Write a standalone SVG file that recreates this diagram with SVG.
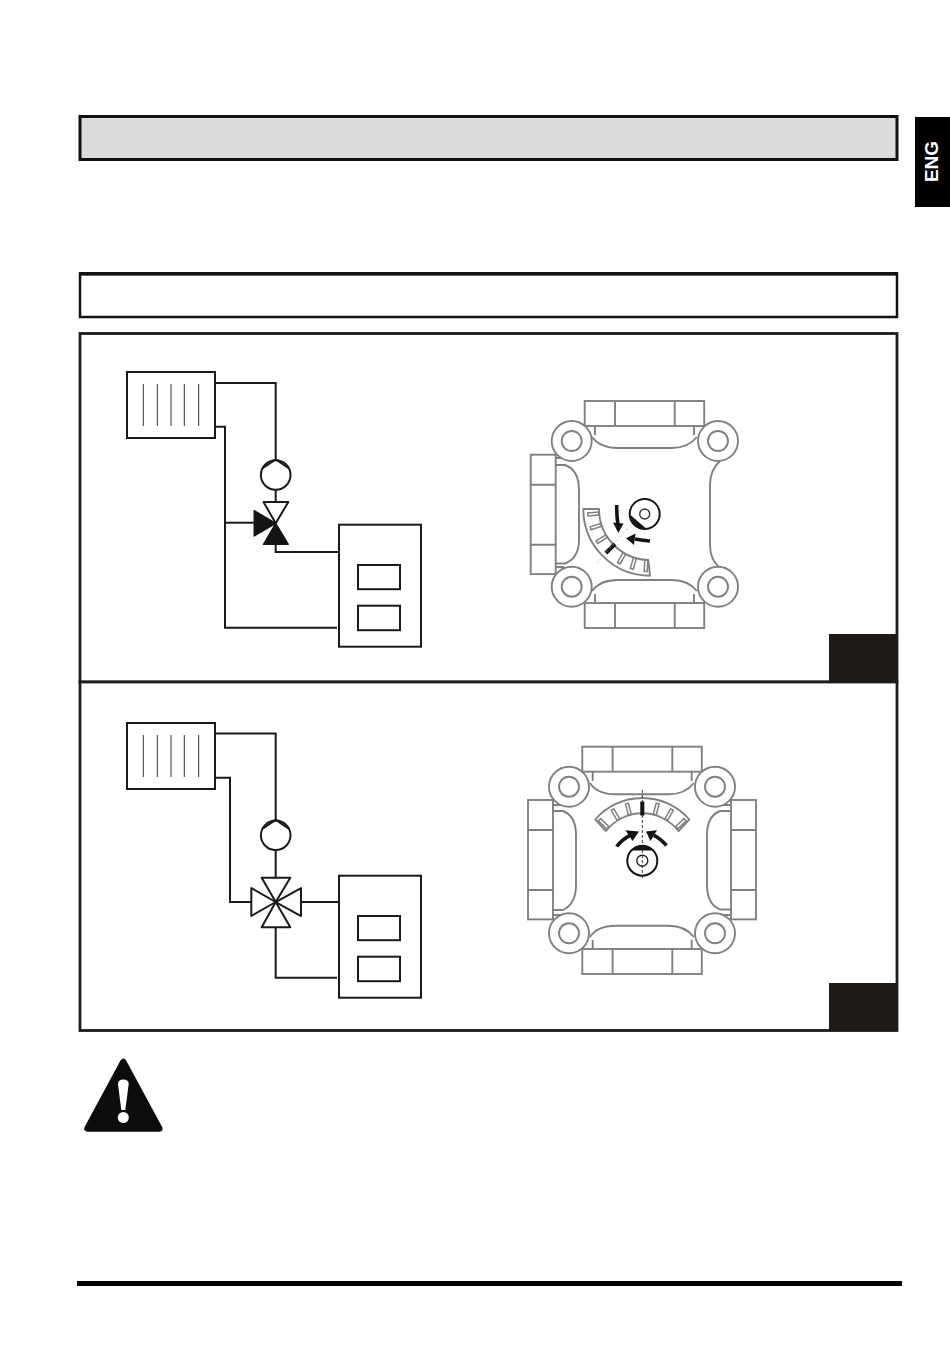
<svg xmlns="http://www.w3.org/2000/svg" width="950" height="1348" viewBox="0 0 950 1348">
<style>
.frame{fill:#fff;stroke:#1c1c1c;stroke-width:2.8}
.ln{fill:none;stroke:#1a1a1a;stroke-width:2}
.box{fill:#fff;stroke:#1a1a1a;stroke-width:2}
.fin{stroke:#333;stroke-width:1}
.blk{fill:#141414;stroke:#141414;stroke-width:1.4;stroke-linejoin:round}
.vt{fill:#fff;stroke:#1a1a1a;stroke-width:2;stroke-linejoin:round}
.g{fill:none;stroke:#808080;stroke-width:1.9}
.gc{fill:#fff;stroke:#808080;stroke-width:1.9}
.tick{fill:#fff;stroke:#808080;stroke-width:1.5}
.tb{fill:#111}
.corner{fill:#1d1a17}
.arr{fill:none;stroke:#141414;stroke-width:3.600}
.arh{fill:#141414}
</style>
<defs>
<g id="radiator"><rect class="box" x="127" y="0" width="88" height="66"/><path class="fin" d="M143.3 12V54M157.3 12V54M171 12V54M184.3 12V54M198.7 12V54"/></g>
<g id="boiler"><rect class="box" x="339" y="0" width="82" height="122"/><rect class="box" x="358" y="40.3" width="42" height="24.2"/><rect class="box" x="358" y="81" width="42" height="24.5"/></g>
<g id="pump"><circle class="box" cx="0" cy="0" r="14.8"/><path class="ln" d="M-13.5 -6.5L0 -15.5L13.5 -6.5" stroke-linejoin="round"/></g>
<g id="lug"><circle class="gc" cx="0" cy="0" r="20"/><circle class="gc" cx="0" cy="0" r="10"/></g>
<g id="flangeH"><rect class="gc" x="0" y="0" width="119.5" height="25"/><path class="g" d="M30.3 0V25M90 0V25"/></g>
<g id="flangeV"><rect class="gc" x="0" y="0" width="25" height="119.4"/><path class="g" d="M0 30H25M0 90H25"/></g>
</defs>
<rect width="950" height="1348" fill="#fff"/>

<g id="title-bar"><rect x="80" y="116.500" width="817" height="43" fill="#dcdcdc" stroke="#111" stroke-width="3"/></g>
<g id="tab"><rect x="915" y="117" width="35" height="90" fill="#000"/><text x="938" y="161.500" transform="rotate(-90 938 161.500)" text-anchor="middle" font-family="'Liberation Sans',Arial,sans-serif" font-weight="bold" font-size="19" fill="#fff">ENG</text></g>
<g id="subtitle-bar"><rect x="80" y="274" width="817" height="43" fill="#fff" stroke="#111" stroke-width="2.500"/><rect x="79" y="272" width="819" height="3.500" fill="#111"/></g>

<g id="panel-1"><rect class="frame" x="80" y="333.500" width="817" height="348.500"/><rect class="corner" x="829" y="634" width="68" height="48"/></g>
<g id="panel-2"><rect class="frame" x="80" y="682" width="817" height="348.500"/><rect class="corner" x="829" y="983" width="68" height="47.500"/></g>

<g id="connectors">
<path class="ln" d="M215 383H275.700V459"/>
<path class="ln" d="M275.700 490V502"/>
<path class="ln" d="M215 426.700H225V627.700H337"/>
<path class="ln" d="M225 522.700H254"/>
<path class="ln" d="M275.700 544V552H339"/>
<path class="ln" d="M215 733.500H275.700V820"/>
<path class="ln" d="M275.700 850V878"/>
<path class="ln" d="M215 777.700H230V902H251"/>
<path class="ln" d="M301 902H339"/>
<path class="ln" d="M275.700 927V977.700H337"/>
</g>

<g id="radiator-1"><use href="#radiator" y="372"/></g>
<g id="pump-1"><use href="#pump" x="275.700" y="475"/></g>
<g id="valve-3way">
<path class="vt" d="M263.500 502H288.300L275.700 523.300Z"/>
<path class="blk" d="M263.500 544.300H288.300L275.700 523.300Z"/>
<path class="blk" d="M254.200 510.700V536L275.700 523.300Z"/>
</g>
<g id="boiler-1"><use href="#boiler" y="524.700"/></g>

<g id="radiator-2"><use href="#radiator" y="723"/></g>
<g id="pump-2"><use href="#pump" x="275.700" y="835.300"/></g>
<g id="valve-4way">
<path class="vt" d="M261.700 877.700H290.300L275.700 902Z"/>
<path class="vt" d="M261.700 927.300H290.300L275.700 902Z"/>
<path class="vt" d="M251.300 888V916L275.700 902Z"/>
<path class="vt" d="M301 888V916L275.700 902Z"/>
</g>
<g id="boiler-2"><use href="#boiler" y="875.700"/></g>

<g id="mixer-1">
<use href="#flangeH" x="584.700" y="401"/>
<use href="#flangeH" x="584.700" y="603"/>
<use href="#flangeV" x="530.700" y="454.700"/>
<path class="g" d="M595 426V435M592 437Q600 448 618 448H672Q688 448 697 437M694 435V426"/>
<path class="g" d="M595 603V594M592 591Q600 580 618 580H672Q688 580 697 591M694 594V603"/>
<path class="g" d="M555.700 465H565Q579 470 579 490V540Q579 558 565 563.500H555.700"/>
<path class="g" d="M555.700 458H564M555.700 567H564"/>
<path class="g" d="M720 461Q710 470 710 485V545Q710 560 720 567.700"/>
<use href="#lug" x="571.700" y="441"/>
<use href="#lug" x="718" y="441"/>
<use href="#lug" x="571.700" y="586.700"/>
<use href="#lug" x="718" y="586.700"/>
<path class="gc" d="M583.300 509A66.700 66.700 0 0 0 650 575.700L648.300 560A51 51 0 0 1 599 509Z" stroke-linejoin="round"/>
<rect class="tick" x="-1.500" y="-62.500" width="3" height="11" transform="translate(650 509) rotate(-95)"/>
<rect class="tick" x="-1.500" y="-62.500" width="3" height="11" transform="translate(650 509) rotate(-108)"/>
<rect class="tick" x="-1.500" y="-62.500" width="3" height="11" transform="translate(650 509) rotate(-122)"/>
<rect class="tb" x="-2" y="-62.500" width="4" height="13" transform="translate(650 509) rotate(-135)"/>
<rect class="tick" x="-1.500" y="-62.500" width="3" height="11" transform="translate(650 509) rotate(-150)"/>
<rect class="tick" x="-1.500" y="-62.500" width="3" height="11" transform="translate(650 509) rotate(-163)"/>
<rect class="tick" x="-1.500" y="-62.500" width="3" height="11" transform="translate(650 509) rotate(-176)"/>
<path d="M628 528L597 563" fill="none" stroke="#aaa" stroke-width=".6" stroke-dasharray="3 2"/>
<circle cx="644.700" cy="514" r="15" fill="#fff" stroke="#141414" stroke-width="2"/>
<path class="arh" d="M630.500 515A15 15 0 0 0 646.700 528.900Z"/>
<circle cx="644.700" cy="514" r="5" fill="#fff" stroke="#333" stroke-width="1.400"/>
<path class="arr" d="M616.700 505Q616.500 515 618 525"/>
<path class="arh" d="M613 522.500L623.500 523.500L618.300 533Z"/>
<path class="arr" d="M650 541Q643 540.500 635 539"/>
<path class="arh" d="M635.500 533.500L634 545L626 538.300Z"/>
</g>

<g id="mixer-2">
<use href="#flangeH" x="582.300" y="746.700"/>
<use href="#flangeH" x="582.300" y="949"/>
<use href="#flangeV" x="528" y="800"/>
<use href="#flangeV" x="731" y="800"/>
<path class="g" d="M592.700 771.500V781M590 783Q597 794.300 616 794.300H669Q685 794.300 694 783M691.700 781V771.500"/>
<path class="g" d="M592.700 949V940M590 937Q597 925.700 616 925.700H669Q685 925.700 694 937M691.700 940V949"/>
<path class="g" d="M553.300 811H563Q576 816 576 835V885Q576 904 563 910H553.300"/>
<path class="g" d="M731 811H720Q707 816 707 835V885Q707 904 720 909.500H731"/>
<path class="g" d="M553.300 805H562M553.300 915H562M731 805H722M731 915H722"/>
<use href="#lug" x="569" y="786.700"/>
<use href="#lug" x="715" y="786.700"/>
<use href="#lug" x="569" y="933.300"/>
<use href="#lug" x="715" y="933.300"/>
<path class="gc" d="M595.300 819.500A62 62 0 0 1 689.300 819.500L678.500 831A46 46 0 0 0 606 831Z" stroke-linejoin="round"/>
<rect class="tick" x="-1.500" y="-59.500" width="3" height="11.500" transform="translate(642.300 861) rotate(-46)"/>
<rect class="tick" x="-1.500" y="-59.500" width="3" height="11.500" transform="translate(642.300 861) rotate(-30)"/>
<rect class="tick" x="-1.500" y="-59.500" width="3" height="11.500" transform="translate(642.300 861) rotate(-15)"/>
<rect class="tb" x="-2" y="-59.500" width="4" height="14" transform="translate(642.300 861)"/>
<rect class="tick" x="-1.500" y="-59.500" width="3" height="11.500" transform="translate(642.300 861) rotate(15)"/>
<rect class="tick" x="-1.500" y="-59.500" width="3" height="11.500" transform="translate(642.300 861) rotate(30)"/>
<rect class="tick" x="-1.500" y="-59.500" width="3" height="11.500" transform="translate(642.300 861) rotate(46)"/>
<circle cx="642.300" cy="860.700" r="15" fill="#fff" stroke="#141414" stroke-width="2"/>
<path class="arh" d="M631.600 850.600A15 15 0 0 1 653 850.600Z"/>
<circle cx="642.300" cy="860.700" r="5.500" fill="#fff" stroke="#222" stroke-width="1.400"/>
<path d="M642.300 790V878" fill="none" stroke="#222" stroke-width=".9" stroke-dasharray="3 2"/>
<path class="arr" d="M616.700 846.500Q622 839.500 630 835.300"/>
<path class="arh" d="M625.500 830.300L632.500 841L639 831.500Z"/>
<path class="arr" d="M666.500 845.500Q660.500 838.500 654 835.300"/>
<path class="arh" d="M657 830.300L650.500 841L646 831.500Z"/>
</g>

<g id="warning">
<path d="M123.300 1062L87.500 1128.500H159.300Z" fill="#0d0d0d" stroke="#0d0d0d" stroke-width="6.500" stroke-linejoin="round"/>
<path d="M118 1084Q118 1079.500 123.300 1079.500Q128.700 1079.500 128.700 1084L125.300 1110H121.300Z" fill="#fff"/>
<circle cx="123.300" cy="1117.500" r="5.500" fill="#fff"/>
</g>

<g id="footer-rule"><rect x="77" y="1281" width="825" height="5" fill="#000"/></g>
</svg>
